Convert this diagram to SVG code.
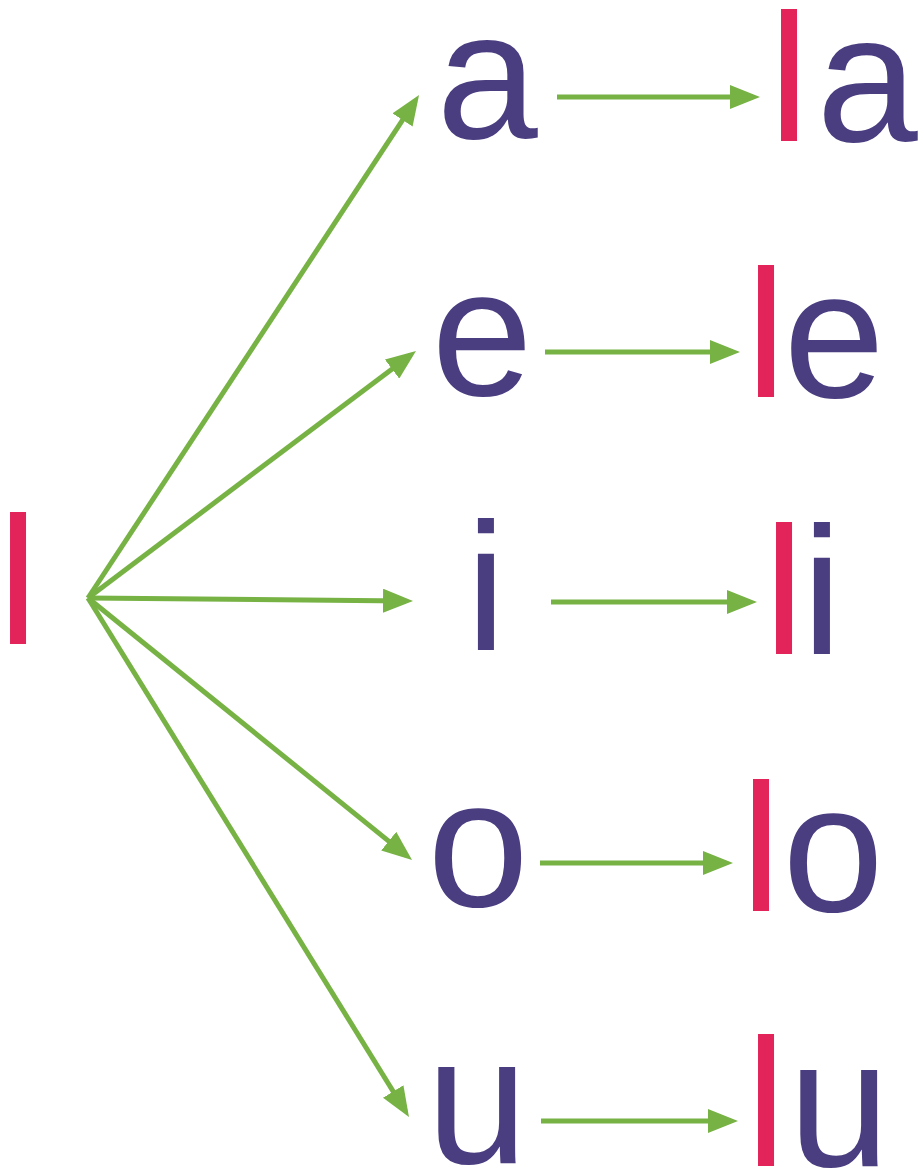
<svg xmlns="http://www.w3.org/2000/svg" width="921" height="1172" viewBox="0 0 921 1172">
  <style>
    .t { font-family: "Liberation Sans", Arial, sans-serif; font-size: 182px; text-anchor: middle; }
    .v { fill: #4a3d80; }
    .l { fill: #e3245b; }
    .c { stroke: #77b244; stroke-width: 5; fill: none; marker-end: url(#ah); }
  </style>
  <defs>
    <marker id="ah" viewBox="0 0 30 24" markerUnits="userSpaceOnUse" markerWidth="30" markerHeight="24" refX="23" refY="12" orient="auto">
      <path d="M0,0 L30,12 L0,24 Z" fill="#77b244"/>
    </marker>
  </defs>
  <rect width="921" height="1172" fill="#ffffff"/>

  <g id="connectors">
    <line class="c" x1="88" y1="598" x2="415.2" y2="100.8"/>
    <line class="c" x1="88" y1="598" x2="410.4" y2="355.2"/>
    <line class="c" x1="88" y1="598" x2="406" y2="600.9"/>
    <line class="c" x1="88" y1="598" x2="406.6" y2="855.6"/>
    <line class="c" x1="88" y1="598" x2="405.3" y2="1111"/>
    <line class="c" x1="557" y1="97" x2="753" y2="97"/>
    <line class="c" x1="545" y1="352" x2="733" y2="352"/>
    <line class="c" x1="551" y1="602" x2="750" y2="602"/>
    <line class="c" x1="540" y1="863" x2="726" y2="863"/>
    <line class="c" x1="541" y1="1121" x2="731" y2="1121"/>
  </g>

  <g id="node-l"><text class="t l" x="18" y="644">l</text></g>

  <g id="node-a"><text class="t v" x="487" y="138">a</text></g>
  <g id="node-e"><text class="t v" x="482" y="395">e</text></g>
  <g id="node-i"><text class="t v" x="486" y="650">i</text></g>
  <g id="node-o"><text class="t v" x="478" y="906">o</text></g>
  <g id="node-u"><text class="t v" x="477" y="1163">u</text></g>

  <g id="node-la"><text class="t" y="141"><tspan class="l" x="789">l</tspan><tspan class="v" x="867">a</tspan></text></g>
  <g id="node-le"><text class="t" y="397"><tspan class="l" x="766">l</tspan><tspan class="v" x="834">e</tspan></text></g>
  <g id="node-li"><text class="t" y="654"><tspan class="l" x="784">l</tspan><tspan class="v" x="822">i</tspan></text></g>
  <g id="node-lo"><text class="t" y="911"><tspan class="l" x="761">l</tspan><tspan class="v" x="833">o</tspan></text></g>
  <g id="node-lu"><text class="t" y="1166"><tspan class="l" x="766">l</tspan><tspan class="v" x="839">u</tspan></text></g>
</svg>
